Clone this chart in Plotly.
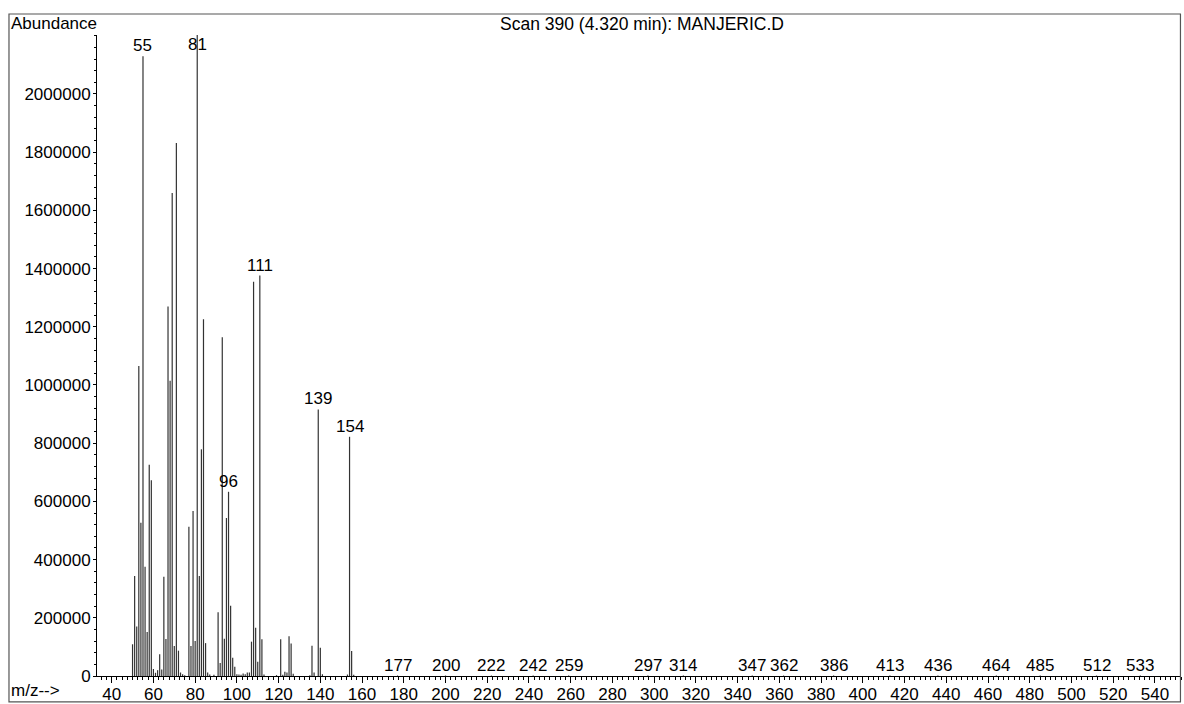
import plotly.graph_objects as go

# m/z values and abundances
mz = [50, 51, 52, 53, 54, 55, 56, 57, 58, 59, 60, 61, 62, 63, 64, 65, 66, 67, 68, 69,
      70, 71, 72, 73, 74, 75, 77, 78, 79, 80, 81, 82, 83, 84, 85, 86, 87, 89,
      91, 92, 93, 94, 95, 96, 97, 98, 99, 100, 101, 102, 103, 104, 105, 106,
      107, 108, 109, 110, 111, 112, 113, 119, 121, 122, 123, 124, 125, 126, 127,
      135, 136, 137, 139, 140, 141, 153, 154, 155, 156,
      177, 200, 222, 242, 259, 297, 314, 347, 362, 386, 413, 436, 464, 485, 512, 533]
abundance = [109000, 344000, 170000, 1065000, 527000, 2130000, 375000, 151000, 726000, 673000,
             24000, 11000, 20000, 75000, 22000, 341000, 127000, 1270000, 1015000, 1660000,
             103000, 1832000, 87000, 12000, 6000, 3000, 513000, 103000, 567000, 120000,
             2205000, 344000, 779000, 1226000, 113000, 12000, 5000, 4000,
             219000, 45000, 1164000, 128000, 543000, 633000, 241000, 63000, 32000,
             6000, 5000, 4000, 9000, 6000, 12000, 12000,
             118000, 1355000, 166000, 49000, 1376000, 126000, 5000, 3000, 126000, 4000,
             15000, 12000, 137000, 112000, 8000,
             3000, 104000, 12000, 916000, 97000, 6000, 5000, 822000, 86000, 4000,
             1500, 1500, 1500, 1500, 1500, 1500, 1500, 1500, 1500, 1500, 1500, 1500,
             1500, 1500, 1500, 1500]

labeled_mz = [55, 81, 96, 111, 139, 154, 177, 200, 222, 242, 259, 297, 314, 347, 362,
              386, 413, 436, 464, 485, 512, 533]

y_tick_values = [0, 200000, 400000, 600000, 800000, 1000000, 1200000, 1400000,
                 1600000, 1800000, 2000000]

title_text = "Scan 390 (4.320 min): MANJERIC.D"
y_title = "Abundance"
x_title = "m/z-->"

FONT = "Liberation Sans, Arial, Helvetica, sans-serif"
FS = 17
LABEL_CAP = 2135000

# stick spectrum: one vertical segment per m/z
xs, ys = [], []
for m, a in zip(mz, abundance):
    xs += [m, m, None]
    ys += [0, a, None]

fig = go.Figure()
fig.add_trace(go.Scatter(x=xs, y=ys, mode="lines",
                         line=dict(color="#333333", width=1.2),
                         showlegend=False, hoverinfo="skip"))

lookup = dict(zip(mz, abundance))
for m in labeled_mz:
    fig.add_annotation(x=m, y=min(lookup[m], LABEL_CAP), text=str(m), showarrow=False,
                       xref="x", yref="y", xanchor="center", yanchor="bottom",
                       yshift=-1, font=dict(family=FONT, size=FS, color="black"))

# frame and texts
fig.add_shape(type="rect", xref="paper", yref="paper",
              x0=-0.0812, x1=0.9995, y0=-0.0405, y1=1.0328,
              line=dict(color="#555555", width=1.2))
fig.add_annotation(x=-0.0808, y=1.0175, xref="paper", yref="paper", text=y_title,
                   showarrow=False, xanchor="left", yanchor="middle",
                   font=dict(family=FONT, size=FS, color="black"))
fig.add_annotation(x=-0.0808, y=-0.0225, xref="paper", yref="paper", text=x_title,
                   showarrow=False, xanchor="left", yanchor="middle",
                   font=dict(family=FONT, size=FS, color="black"))
fig.add_annotation(x=0.503, y=1.0175, xref="paper", yref="paper", text=title_text,
                   showarrow=False, xanchor="center", yanchor="middle",
                   font=dict(family=FONT, size=17.5, color="black"))

fig.update_layout(
    width=1184, height=704,
    margin=dict(l=97, r=3, t=35, b=28, autoexpand=False),
    paper_bgcolor="white", plot_bgcolor="white",
    xaxis=dict(range=[32.96, 552.5], dtick=20, tick0=0, ticks="outside", ticklen=6,
               tickcolor="black", showline=True, linecolor="black", linewidth=1,
               showgrid=False, zeroline=False, automargin=False,
               ticklabelstandoff=-3,
               tickfont=dict(family=FONT, size=FS, color="black"),
               minor=dict(dtick=2.5, ticks="outside", ticklen=3, tickcolor="black")),
    yaxis=dict(range=[0, 2202700], tickvals=y_tick_values, ticks="outside", ticklen=3,
               tickcolor="black", showline=True, linecolor="black", linewidth=1,
               showgrid=False, zeroline=False, tickformat="d", automargin=False,
               ticklabelstandoff=-1,
               tickfont=dict(family=FONT, size=FS, color="black"),
               minor=dict(dtick=40000, tick0=0, ticks="outside", ticklen=2,
                          tickcolor="black")),
)

fig.write_html("out.html", config={"displayModeBar": False},
               post_script="document.body.style.margin='0px';document.body.style.overflow='hidden';")
